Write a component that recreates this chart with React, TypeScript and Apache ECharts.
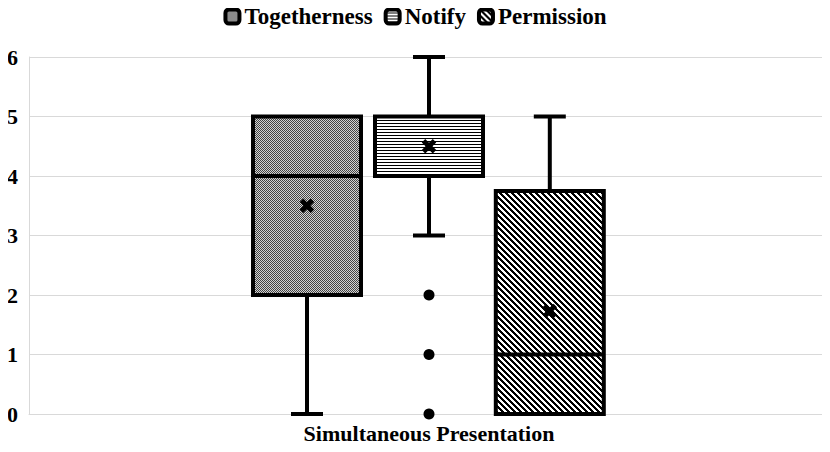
import React, { useEffect, useRef } from "react";
import * as echarts from "echarts";

const categories = ["Simultaneous Presentation"];
const seriesNames = ["Togetherness", "Notify", "Permission"];
const minValues = [0, 3, 0];
const q1Values = [2, 4, 0];
const medianValues = [4, 4, 1];
const q3Values = [5, 5, 3.75];
const maxValues = [5, 6, 5];
const meanValues = [3.5, 4.5, 1.73];
const outlierValues: number[][] = [[], [0, 1, 2], []];
const yTickMin = 0;
const yTickMax = 6;
const yTickInterval = 1;

const FONT = '"Liberation Serif", "Times New Roman", serif';

function makePattern(kind: number) {
  const c = document.createElement("canvas");
  let w = 4;
  let h = 4;
  if (kind === 0) {
    w = 2; h = 2;
  } else if (kind === 1) {
    w = 4; h = 3;
  } else {
    w = 6; h = 6;
  }
  c.width = w;
  c.height = h;
  const ctx = c.getContext("2d")!;
  ctx.fillStyle = "#ffffff";
  ctx.fillRect(0, 0, w, h);
  if (kind === 0) {
    ctx.fillStyle = "#d4d4d4";
    ctx.fillRect(0, 0, 2, 2);
    ctx.fillStyle = "#444444";
    ctx.fillRect(0, 0, 1, 1);
    ctx.fillRect(1, 1, 1, 1);
  } else if (kind === 1) {
    ctx.fillStyle = "#000000";
    ctx.fillRect(0, 0, w, 1);
  } else {
    ctx.fillStyle = "#000000";
    for (let x = 0; x < w; x++) {
      for (let y = 0; y < h; y++) {
        if (((x - y) % 6 + 6) % 6 < 3) ctx.fillRect(x, y, 1, 1);
      }
    }
  }
  return { image: c, repeat: "repeat", imageWidth: w, imageHeight: h } as any;
}

const offsets = [-0.1525, 0, 0.151];
const boxFrac = 0.135;
const capFrac = 0.04;

export default function App() {
  const ref = useRef<HTMLDivElement>(null);
  useEffect(() => {
    if (!ref.current) return;
    const chart = echarts.init(ref.current, null, { renderer: "svg" });
    const patterns = [makePattern(0), makePattern(1), makePattern(2)];

    const series = seriesNames.map((name, i) => ({
      type: "custom",
      name,
      itemStyle: { color: patterns[i] },
      data: [[0, minValues[i], q1Values[i], medianValues[i], q3Values[i], maxValues[i], meanValues[i]]],
      encode: { x: 0, y: [1, 2, 3, 4, 5] },
      renderItem: (params: any, api: any) => {
        const cat = api.value(0);
        const cx = api.coord([cat, 0])[0];
        const band = api.size([1, 0])[0];
        const xc = cx + offsets[i] * band;
        const yOf = (v: number) => api.coord([cat, v])[1];
        const half = (boxFrac * band) / 2;
        const capHalf = (capFrac * band) / 2;
        const lw = 4;
        const lineStyle = { stroke: "#000", lineWidth: lw };
        const children: any[] = [];
        const yMin = yOf(minValues[i]);
        const yQ1 = yOf(q1Values[i]);
        const yMed = yOf(medianValues[i]);
        const yQ3 = yOf(q3Values[i]);
        const yMax = yOf(maxValues[i]);
        if (minValues[i] < q1Values[i]) {
          children.push({ type: "line", shape: { x1: xc, y1: yQ1, x2: xc, y2: yMin }, style: lineStyle });
          children.push({ type: "line", shape: { x1: xc - capHalf, y1: yMin, x2: xc + capHalf, y2: yMin }, style: lineStyle });
        }
        if (maxValues[i] > q3Values[i]) {
          children.push({ type: "line", shape: { x1: xc, y1: yQ3, x2: xc, y2: yMax }, style: lineStyle });
          children.push({ type: "line", shape: { x1: xc - capHalf, y1: yMax, x2: xc + capHalf, y2: yMax }, style: lineStyle });
        }
        children.push({
          type: "rect",
          shape: { x: xc - half, y: yQ3, width: half * 2, height: yQ1 - yQ3 },
          style: { fill: patterns[i], stroke: "#000", lineWidth: lw },
        });
        children.push({ type: "line", shape: { x1: xc - half, y1: yMed, x2: xc + half, y2: yMed }, style: lineStyle });
        const ym = yOf(meanValues[i]);
        const s = 5.5;
        const xStyle = { stroke: "#000", lineWidth: 5 };
        children.push({ type: "line", shape: { x1: xc - s, y1: ym - s, x2: xc + s, y2: ym + s }, style: xStyle });
        children.push({ type: "line", shape: { x1: xc - s, y1: ym + s, x2: xc + s, y2: ym - s }, style: xStyle });
        outlierValues[i].forEach((v) => {
          children.push({ type: "circle", shape: { cx: xc, cy: yOf(v), r: 5.5 }, style: { fill: "#000" } });
        });
        return { type: "group", children };
      },
    }));

    chart.setOption({
      animation: false,
      backgroundColor: "#ffffff",
      legend: {
        top: 0,
        left: "center",
        icon: "roundRect",
        itemWidth: 14,
        itemHeight: 14,
        itemGap: 11,
        textStyle: { fontFamily: FONT, fontWeight: "bold", fontSize: 23, color: "#000" },
        data: seriesNames.map((n, i) => ({
          name: n,
          itemStyle: { color: patterns[i], borderColor: "#000", borderWidth: 4 },
        })),
      },
      grid: { left: 29, right: 1, top: 57, bottom: 38, containLabel: false },
      xAxis: {
        type: "category",
        data: categories,
        axisLine: { show: true, lineStyle: { color: "#d9d9d9", width: 1 } },
        axisTick: { show: false },
        axisLabel: { fontFamily: FONT, fontWeight: "bold", fontSize: 22, lineHeight: 22, color: "#000", margin: 8 },
      },
      yAxis: {
        type: "value",
        min: yTickMin,
        max: yTickMax,
        interval: yTickInterval,
        axisLine: { show: true, lineStyle: { color: "#d9d9d9", width: 1 } },
        axisTick: { show: false },
        splitLine: { show: true, lineStyle: { color: "#d9d9d9", width: 1 } },
        axisLabel: { fontFamily: FONT, fontWeight: "bold", fontSize: 22, color: "#000", margin: 11 },
      },
      series,
    } as any);
    return () => chart.dispose();
  }, []);
  return <div ref={ref} style={{ width: 830, height: 452, margin: -8 }} />;
}
